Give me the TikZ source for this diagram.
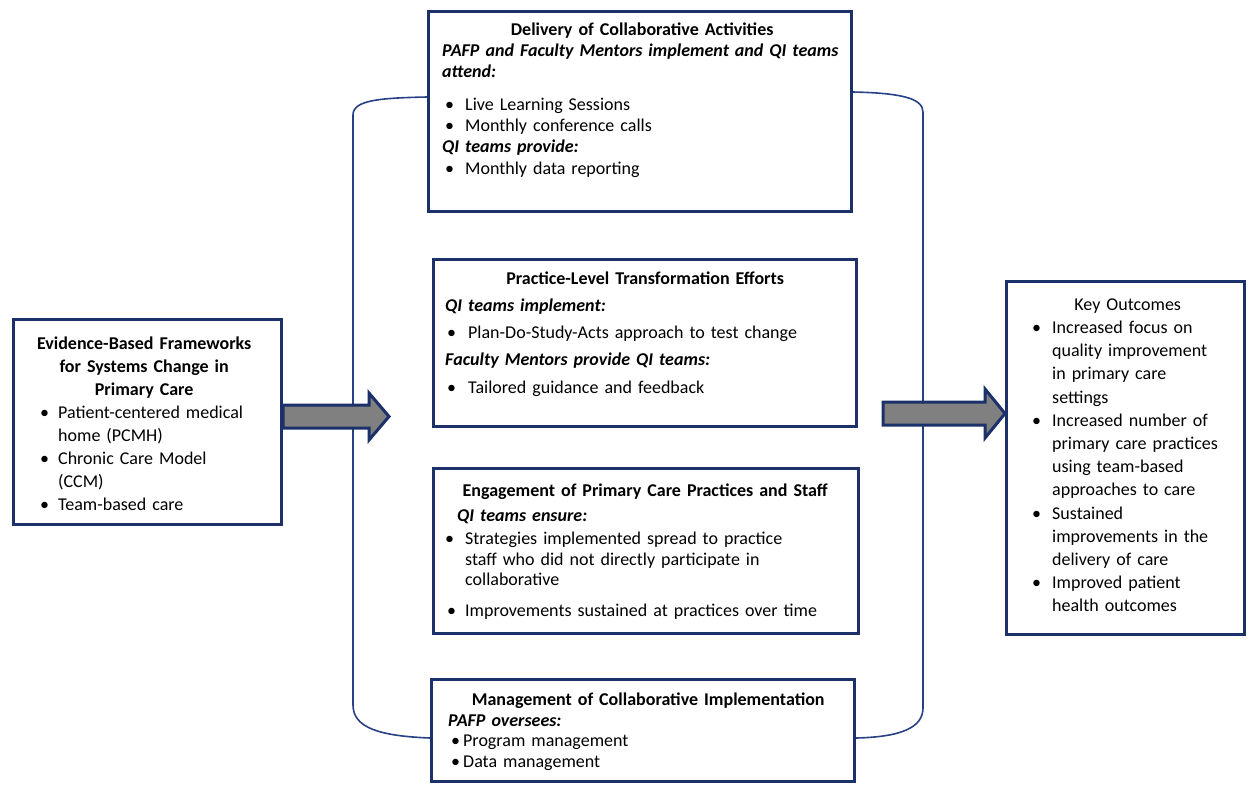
\documentclass[tikz,border=0pt]{standalone}
\usepackage{fontspec}
\setmainfont{Carlito}
\usetikzlibrary{calc,positioning}
\definecolor{navy}{RGB}{28,48,105}
\definecolor{bracecol}{RGB}{40,64,132}
\definecolor{arrowgray}{RGB}{128,128,128}
\tikzset{
  panel/.style={rectangle, draw=navy, line width=3pt, fill=white,
                anchor=north west, inner sep=0pt},
  txt/.style={anchor=north west, inner sep=0pt, align=left},
  brace/.style={draw=bracecol, line width=1.6pt},
  fatarrow/.style={draw=navy, line width=3pt, fill=arrowgray, line join=miter},
}
\newcommand{\fs}[1]{\fontsize{18}{#1}\selectfont\parindent=0pt\parskip=0pt}
\newcommand{\hd}[1]{{\centering\bfseries #1\par}}
\newcommand{\subhd}[2][0pt]{\par\noindent\kern#1\textbf{\textit{#2}}\par}
\newcommand{\bitem}[3]{\par\hangindent=#2\hangafter=1\noindent\kern#1%
  \makebox[\dimexpr#2-#1\relax][l]{\textbullet}{\let\\\newline #3\par}}
% fat block arrow: start, tip, head length, head half height
\newcommand{\fatarr}[4]{%
  \draw[fatarrow] ($(#1)+(0,-11.5)$) -- ($(#2)+(-#3,-11.5)$) -- ($(#2)+(-#3,-#4)$)
    -- (#2) -- ($(#2)+(-#3,#4)$) -- ($(#2)+(-#3,11.5)$) -- ($(#1)+(0,11.5)$) -- cycle;}

\begin{document}
\begin{tikzpicture}[x=1pt, y=-1pt]
  \useasboundingbox (0,0) rectangle (1250,785);

  % panels
  \node [panel, minimum width=268pt, minimum height=205pt] (evid)   at (12,318)  {};
  \node [panel, minimum width=423pt, minimum height=200pt] (deliv)  at (427,10)  {};
  \node [panel, minimum width=423pt, minimum height=167pt] (effort) at (432,258) {};
  \node [panel, minimum width=425pt, minimum height=165pt] (engage) at (432,467) {};
  \node [panel, minimum width=423pt, minimum height=102pt] (manage) at (430,678) {};
  \node [panel, minimum width=238pt, minimum height=353pt] (outc)   at (1005,280) {};

  \coordinate (lmid) at (0,416.5);
  \coordinate (rmid) at (0,413.5);
  \coordinate (ltip)   at (389,416.5);
  \coordinate (rstart) at (883,413.5);

  % braces
  \draw [brace] ([yshift=-87pt]deliv.north west) .. controls (380,98) and (353,100) .. (353,115)
    -- (353,404) .. controls (353,411) and (346,416) .. (338,416.5)
    .. controls (346,417) and (353,422) .. (353,429)
    -- (353,705) .. controls (353,728) and (380,736) .. ([yshift=-60pt]manage.north west);
  \draw [brace] ([yshift=-82pt]deliv.north east) .. controls (900,93) and (923,98) .. (923,112)
    -- (923,401) .. controls (923,408) and (930,413) .. (938,413.5)
    .. controls (930,414) and (923,419) .. (923,426)
    -- (923,708) .. controls (923,728) and (900,737) .. ([yshift=-60pt]manage.north east);

  % redraw panels over brace ends
  \node [panel, minimum width=423pt, minimum height=200pt] at (427,10)  {};
  \node [panel, minimum width=423pt, minimum height=102pt] at (430,678) {};

  % texts
  \node [txt, text width=240pt, font=\fs{23}] (evid-txt) at ([shift={(12,18.5)}]evid.north west)
    {\hd{Evidence-Based Frameworks\\for Systems Change in\\Primary Care}
     \bitem{16pt}{34pt}{Patient-centered medical\\home (PCMH)}
     \bitem{16pt}{34pt}{Chronic Care Model\\(CCM)}
     \bitem{16pt}{34pt}{Team-based care}};
  \node [txt, text width=400pt, font=\fs{21.3}] (deliv-txt) at ([shift={(15,12.5)}]deliv.north west)
    {\hd{Delivery of Collaborative Activities}
     \subhd{PAFP and Faculty Mentors implement and QI teams\\attend:}
     \vspace{11pt}
     \bitem{3pt}{23pt}{Live Learning Sessions}
     \bitem{3pt}{23pt}{Monthly conference calls}
     \subhd{QI teams provide:}
     \bitem{3pt}{23pt}{Monthly data reporting}};
  \node [txt, text width=400pt, font=\fs{27.2}] (effort-txt) at ([shift={(13,13.5)}]effort.north west)
    {\hd{Practice-Level Transformation Efforts}
     \subhd{QI teams implement:}
     \bitem{2pt}{23pt}{Plan-Do-Study-Acts approach to test change}
     \subhd{Faculty Mentors provide QI teams:}
     \bitem{2pt}{23pt}{Tailored guidance and feedback}};
  \node [txt, text width=400pt, font=\fs{20.5}] (engage-txt) at ([shift={(13,17)}]engage.north west)
    {\hd{Engagement of Primary Care Practices and Staff}
     \vspace{4pt}
     \subhd[12pt]{QI teams ensure:}
     \vspace{3pt}
     \bitem{0pt}{20pt}{Strategies implemented spread to practice\\staff who did not directly participate in\\collaborative}
     \vspace{10pt}
     \bitem{2pt}{20pt}{Improvements sustained at practices over time}};
  \node [txt, text width=400pt, font=\fs{20.8}] (manage-txt) at ([shift={(18,14.5)}]manage.north west)
    {\hd{Management of Collaborative Implementation}
     \subhd{PAFP oversees:}
     \bitem{3pt}{15pt}{Program management}
     \bitem{3pt}{15pt}{Data management}};
  \node [txt, text width=215pt, font=\fs{23.2}] (outc-txt) at ([shift={(15,18.5)}]outc.north west)
    {{\centering Key Outcomes\par}
     \bitem{12pt}{32pt}{Increased focus on\\quality improvement\\in primary care\\settings}
     \bitem{12pt}{32pt}{Increased number of\\primary care practices\\using team-based\\approaches to care}
     \bitem{12pt}{32pt}{Sustained\\improvements in the\\delivery of care}
     \bitem{12pt}{32pt}{Improved patient\\health outcomes}};

  % arrows
  \fatarr{evid.east |- lmid}{ltip}{20}{23.5}
  \fatarr{rstart}{outc.west |- rmid}{20}{24.5}
\end{tikzpicture}
\end{document}
